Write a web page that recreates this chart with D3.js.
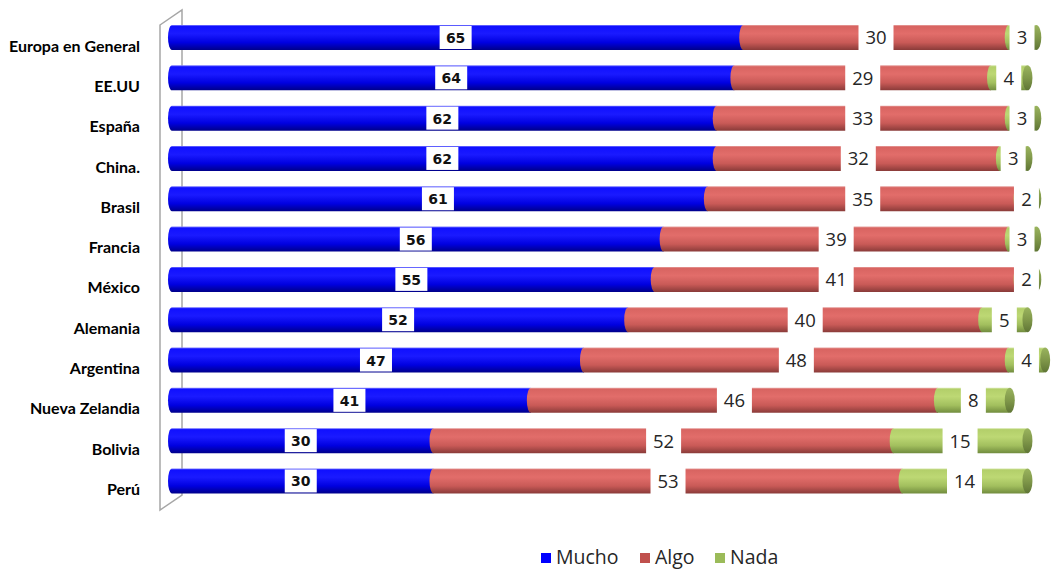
<!DOCTYPE html>
<html><head><meta charset="utf-8">
<script src="https://cdn.jsdelivr.net/npm/d3@7"></script>
<style>html,body{margin:0;padding:0;background:#fff;}svg{display:block;}</style>
</head><body>
<svg id="chart" width="1055" height="569"></svg>
<script>
const categories = ["Europa en General","EE.UU","España","China.","Brasil","Francia","México","Alemania","Argentina","Nueva Zelandia","Bolivia","Perú"];
const seriesNames = ["Mucho","Algo","Nada"];
const mucho = [65,64,62,62,61,56,55,52,47,41,30,30];
const algo  = [30,29,33,32,35,39,41,40,48,46,52,53];
const nada  = [3,4,3,3,2,3,2,5,4,8,15,14];
const colors = ["#0000ff","#c0504d","#9bbb59"];

const svg = d3.select("#chart");
const x = d3.scaleLinear().domain([0,100]).range([168,1053]);
const y = d3.scalePoint().domain(categories).range([17.35, 501.1]).padding(0.5);
const barH = 25;

const defs = svg.append("defs");
function grad(id, stops){
  const g = defs.append("linearGradient").attr("id",id).attr("x1",0).attr("y1",0).attr("x2",0).attr("y2",1);
  stops.forEach(s=>g.append("stop").attr("offset",s[0]).attr("stop-color",s[1]));
}
grad("g0",[[0,"#8080ff"],[0.06,"#1010ff"],[0.35,"#1a1aff"],[0.7,"#0000e0"],[1,"#00008a"]]);
grad("g1",[[0,"#e7a3a1"],[0.06,"#d86461"],[0.35,"#e26d6a"],[0.7,"#c95a57"],[1,"#8a3b39"]]);
grad("g2",[[0,"#d7e8ad"],[0.06,"#b3cf6a"],[0.35,"#bdd874"],[0.7,"#a2bf5e"],[1,"#718c3e"]]);
grad("gcap",[[0,"#9ab45e"],[0.5,"#80984a"],[1,"#5f7535"]]);

// 3D wall
svg.append("path")
  .attr("d","M160,25 L182,10 L182,495 L160,510 Z")
  .attr("fill","none").attr("stroke","#a6a6a6").attr("stroke-width",1.5);

const rows = categories.map((c,i)=>({cat:c, vals:[mucho[i],algo[i],nada[i]]}));
const rx = 4;

const gRows = svg.append("g").selectAll("g").data(rows).join("g");
gRows.each(function(d){
  const g = d3.select(this);
  const cy = y(d.cat), t = cy - barH/2, b = cy + barH/2;
  let acc = 0;
  const segs = d.vals.map((v,k)=>{ const s={k, v, x0:x(acc), x1:x(acc+v)}; acc+=v; return s; });
  segs.forEach(s=>{
    const x0 = s.k===0 ? s.x0 + rx : s.x0;
    g.append("path")
      .attr("d",`M${x0},${t} L${s.x1},${t} L${s.x1},${b} L${x0},${b} A${rx},${barH/2} 0 0 1 ${x0},${t} Z`)
      .attr("fill",`url(#g${s.k})`);
  });
  const last = segs[segs.length-1];
  g.append("ellipse").attr("cx",last.x1+1).attr("cy",cy).attr("rx",5).attr("ry",barH/2)
    .attr("fill","url(#gcap)");
  // labels
  segs.forEach(s=>{
    const cx = (s.x0+s.x1)/2;
    const txt = String(s.v);
    if(s.k===0){
      const w = txt.length*9 + 14;
      g.append("rect").attr("x",cx-w/2).attr("y",t+1).attr("width",w).attr("height",barH-2).attr("fill","#fff");
      g.append("text").attr("x",cx).attr("y",cy+1.5).attr("text-anchor","middle").attr("dominant-baseline","middle")
        .attr("font-family","DejaVu Sans").attr("font-weight","bold").attr("font-size",14).attr("fill","#111").text(txt);
    } else {
      const w = txt.length*10 + 15;
      g.append("rect").attr("x",cx-w/2).attr("y",t-1).attr("width",w).attr("height",barH+2).attr("fill","#fff");
      g.append("text").attr("x",cx).attr("y",cy+2).attr("text-anchor","middle").attr("dominant-baseline","middle")
        .attr("font-family","Open Sans").attr("font-size",18.5).attr("fill","#262626").text(txt);
    }
  });
  g.append("text").attr("x",140).attr("y",cy+10).attr("text-anchor","end").attr("dominant-baseline","middle")
    .attr("font-family","Lato").attr("font-weight","bold").attr("font-size",16).attr("fill","#000").text(d.cat);
});

// legend
const legX = [541, 640, 715];
const leg = svg.append("g").selectAll("g").data(seriesNames).join("g")
  .attr("transform",(d,i)=>`translate(${legX[i]},558)`);
leg.append("rect").attr("x",0).attr("y",-5).attr("width",10).attr("height",10).attr("fill",(d,i)=>colors[i]);
leg.append("text").attr("x",15).attr("y",1).attr("dominant-baseline","middle")
  .attr("font-family","Open Sans").attr("font-size",19.5).attr("fill","#262626").text(d=>d);
</script>
</body></html>
